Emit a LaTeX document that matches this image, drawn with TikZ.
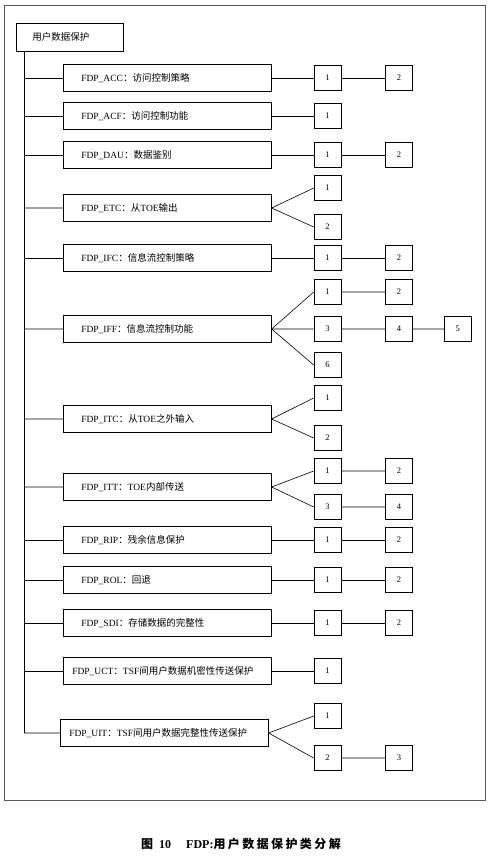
\documentclass[tikz,border=0pt]{standalone}
\usepackage{fontspec}
\setmainfont{Liberation Serif}
\newfontfamily\cjk{Noto Sans CJK SC}
\usetikzlibrary{positioning}

\tikzset{
  rootbox/.style={draw, anchor=west, text width=75pt, inner xsep=16pt, minimum height=28pt, align=left, font=\fontsize{9.5}{11}\selectfont},
  mainbox/.style={draw, anchor=west, text width=172pt, inner xsep=18pt, minimum height=27pt, align=left, font=\fontsize{9.5}{11}\selectfont},
  widebox/.style={mainbox, text width=190pt, inner xsep=9pt},
  smallbox/.style={draw, minimum width=27pt, minimum height=25pt, inner sep=0pt, font=\fontsize{8.5}{10}\selectfont},
}

\begin{document}
\begin{tikzpicture}[x=1pt, y=-1pt, line width=0.6pt]
\pgfmathsetmacro{\xm}{63} % left edge of the class boxes
\pgfmathsetmacro{\xa}{327.5} % centre of the first column of small boxes

\useasboundingbox (0,0) rectangle (495,856);
\draw[black!65, line width=0.8pt] (4,5) rectangle (485,800); %frame

\node[rootbox] (root) at (16,37) {{\cjk 用户数据保护}};
\coordinate (trunk) at (24,51);

% ACC
\node[mainbox] (acc) at (\xm,78) {FDP\_ACC{\cjk ：访问控制策略}};
\node[smallbox] (acc1) at (\xa,78) {1};
\node[smallbox, right=44pt of acc1] (acc2) {2};
\draw (trunk |- acc.west) -- (acc.west) (acc.east) -- (acc1.west) (acc1.east) -- (acc2.west);

% ACF
\node[mainbox] (acf) at (\xm,116) {FDP\_ACF{\cjk ：访问控制功能}};
\node[smallbox] (acf1) at (\xa,116) {1};
\draw (trunk |- acf.west) -- (acf.west) (acf.east) -- (acf1.west);

% DAU
\node[mainbox] (dau) at (\xm,155) {FDP\_DAU{\cjk ：数据鉴别}};
\node[smallbox] (dau1) at (\xa,155) {1};
\node[smallbox, right=44pt of dau1] (dau2) {2};
\draw (trunk |- dau.west) -- (dau.west) (dau.east) -- (dau1.west) (dau1.east) -- (dau2.west);

% ETC
\node[mainbox] (etc) at (\xm,208) {FDP\_ETC{\cjk ：从}TOE{\cjk 输出}};
\node[smallbox] (etc1) at (\xa,188) {1};
\node[smallbox] (etc2) at (\xa,227) {2};
\draw (trunk |- etc.west) -- (etc.west) (etc.east) -- (etc1.west) (etc.east) -- (etc2.west);

% IFC
\node[mainbox] (ifc) at (\xm,258) {FDP\_IFC{\cjk ：信息流控制策略}};
\node[smallbox] (ifc1) at (\xa,258) {1};
\node[smallbox, right=44pt of ifc1] (ifc2) {2};
\draw (trunk |- ifc.west) -- (ifc.west) (ifc.east) -- (ifc1.west) (ifc1.east) -- (ifc2.west);

% IFF
\node[mainbox] (iff) at (\xm,329) {FDP\_IFF{\cjk ：信息流控制功能}};
\node[smallbox] (iff1) at (\xa,292) {1};
\node[smallbox, right=44pt of iff1] (iff2) {2};
\node[smallbox] (iff3) at (\xa,329) {3};
\node[smallbox, right=44pt of iff3] (iff4) {4};
\node[smallbox, right=31pt of iff4] (iff5) {5};
\node[smallbox] (iff6) at (\xa,365) {6};
\draw (trunk |- iff.west) -- (iff.west) (iff.east) -- (iff1.west) (iff1.east) -- (iff2.west);
\draw (iff.east) -- (iff3.west) (iff3.east) -- (iff4.west) (iff4.east) -- (iff5.west) (iff.east) -- (iff6.west);

% ITC
\node[mainbox] (itc) at (\xm,419) {FDP\_ITC{\cjk ：从}TOE{\cjk 之外输入}};
\node[smallbox] (itc1) at (\xa,398) {1};
\node[smallbox] (itc2) at (\xa,438) {2};
\draw (trunk |- itc.west) -- (itc.west) (itc.east) -- (itc1.west) (itc.east) -- (itc2.west);

% ITT
\node[mainbox] (itt) at (\xm,487) {FDP\_ITT{\cjk ：}TOE{\cjk 内部传送}};
\node[smallbox] (itt1) at (\xa,471) {1};
\node[smallbox, right=44pt of itt1] (itt2) {2};
\node[smallbox] (itt3) at (\xa,507) {3};
\node[smallbox, right=44pt of itt3] (itt4) {4};
\draw (trunk |- itt.west) -- (itt.west) (itt.east) -- (itt1.west) (itt1.east) -- (itt2.west);
\draw (itt.east) -- (itt3.west) (itt3.east) -- (itt4.west);

% RIP
\node[mainbox] (rip) at (\xm,540) {FDP\_RIP{\cjk ：残余信息保护}};
\node[smallbox] (rip1) at (\xa,540) {1};
\node[smallbox, right=44pt of rip1] (rip2) {2};
\draw (trunk |- rip.west) -- (rip.west) (rip.east) -- (rip1.west) (rip1.east) -- (rip2.west);

% ROL
\node[mainbox] (rol) at (\xm,580) {FDP\_ROL{\cjk ：回退}};
\node[smallbox] (rol1) at (\xa,580) {1};
\node[smallbox, right=44pt of rol1] (rol2) {2};
\draw (trunk |- rol.west) -- (rol.west) (rol.east) -- (rol1.west) (rol1.east) -- (rol2.west);

% SDI
\node[mainbox] (sdi) at (\xm,623) {FDP\_SDI{\cjk ：存储数据的完整性}};
\node[smallbox] (sdi1) at (\xa,623) {1};
\node[smallbox, right=44pt of sdi1] (sdi2) {2};
\draw (trunk |- sdi.west) -- (sdi.west) (sdi.east) -- (sdi1.west) (sdi1.east) -- (sdi2.west);

% UCT
\node[widebox] (uct) at (\xm,671) {FDP\_UCT{\cjk ：}TSF{\cjk 间用户数据机密性传送保护}};
\node[smallbox] (uct1) at (\xa,671) {1};
\draw (trunk |- uct.west) -- (uct.west) (uct.east) -- (uct1.west);

% UIT
\node[widebox] (uit) at (60,733) {FDP\_UIT{\cjk ：}TSF{\cjk 间用户数据完整性传送保护}};
\node[smallbox] (uit1) at (\xa,716) {1};
\node[smallbox] (uit2) at (\xa,758) {2};
\node[smallbox, right=44pt of uit2] (uit3) {3};
\draw (trunk |- uit.west) -- (uit.west) (uit.east) -- (uit1.west) (uit.east) -- (uit2.west) (uit2.east) -- (uit3.west);

\draw (trunk) -- (trunk |- uit.west); %trunk line

\node[font=\fontsize{12}{14}\selectfont\bfseries] (caption) at (241,844)
  {{\cjk 图}\enspace 10\quad\ FDP:{\cjk\addfontfeature{LetterSpace=20}用户数据保护类分解}};
\end{tikzpicture}
\end{document}
